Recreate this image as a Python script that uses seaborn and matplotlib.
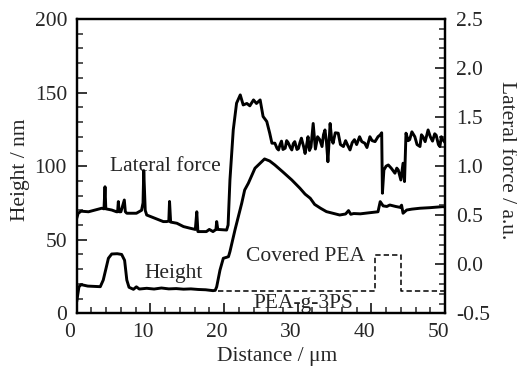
import numpy as np
import pandas as pd
import matplotlib
matplotlib.use("Agg")
import matplotlib.pyplot as plt
import matplotlib.transforms as mtransforms
import seaborn as sns

# height profile (nm) vs distance (um)
height_x = [0, 0.3, 0.6, 1.5, 3.2, 3.6, 4.0, 4.3, 4.75, 5.5, 6.1, 6.5, 6.8, 7.1, 7.7, 8.1,
            8.5, 9.5, 10.5, 11.5, 12.5, 13.5, 14.5, 15.5, 16.5, 17.5, 18.5, 18.8, 19.0,
            19.45, 19.9, 20.3, 20.6, 20.8, 21.5, 22.4, 22.8, 23.3, 24.2, 25.5, 26.2, 26.9,
            28.0, 29.2, 30.3, 31.0, 31.7, 32.3, 33.1, 33.9, 35.7, 36.5, 36.9, 37.2, 37.6,
            38.5, 39.5, 40.9, 41.2, 41.6, 42.1, 42.5, 43.3, 43.9, 44.1, 44.3, 44.8, 45.5,
            46.6, 48.0, 49.7, 50.0]
height_y = [8, 18, 19.5, 18.5, 18.1, 22.6, 31, 37.4, 40.3, 40.5, 40, 36, 22.6, 17.7, 16.3, 18,
            16.5, 17, 16.5, 17.2, 16.6, 16.8, 16.4, 16.6, 16.2, 16, 15.4, 15.6, 18,
            29.4, 37.4, 38, 38.5, 41.9, 57, 74.8, 83.8, 88.4, 98.6, 104.9, 103.5, 100.8,
            96, 90.6, 85, 81, 78.2, 74, 71.4, 69.1, 66.8, 67.5, 69.8, 67.3, 67.8,
            67.6, 68.2, 69, 75.9, 73, 72.6, 73.6, 72.6, 72, 73.5, 68, 70.2, 70.8,
            71.4, 71.8, 72.5, 72.3]

# lateral force (a.u.) vs distance (um)
force_x = [0, 0.2, 0.6, 1.6, 2.5, 3.4, 3.7, 3.84, 3.95, 4.75, 5.4, 5.55, 5.65, 5.75, 6.0,
           6.46, 6.6, 6.8, 8.1, 8.8, 9.0, 9.1, 9.3, 9.5, 10.6, 11.75, 12.2, 12.5, 12.6,
           12.75, 13.6, 14.5, 15.4, 16.1, 16.3, 16.45, 17.6, 18.0, 18.5, 18.9, 19.0, 19.15,
           20.35, 20.55, 20.8, 21.25, 21.7, 22.2, 22.6, 23.1, 23.5, 24.0, 24.4, 24.9, 25.3,
           25.8, 26.2, 26.5, 26.9, 27.2, 27.4, 27.6, 27.8, 28.0, 28.3, 28.5, 28.7, 29.0,
           29.2, 29.4, 29.6, 29.9, 30.1, 30.3, 30.5, 30.8, 31.0, 31.2, 31.4, 31.6, 31.8,
           32.1, 32.4, 32.7, 33.0, 33.3, 33.5, 33.7, 33.9, 34.1, 34.4, 34.6, 34.8, 35.1,
           35.5, 35.8, 36.2, 36.5, 36.8, 37.1, 37.4, 37.7, 38.0, 38.4, 38.7, 39.1, 39.4,
           39.8, 40.1, 40.5, 40.9, 41.2, 41.4, 41.5, 41.7, 42.0, 42.3, 42.7, 43.2, 43.45,
           43.65, 44.0, 44.3, 44.5, 44.7, 45.0, 45.2, 45.5, 45.9, 46.2, 46.6, 46.8, 47.0,
           47.3, 47.7, 48.0, 48.3, 48.6, 48.8, 49.1, 49.3, 49.5, 49.7, 50.0]
force_y = [0.469, 0.52, 0.541, 0.535, 0.553, 0.571, 0.565, 0.79, 0.565, 0.553, 0.535, 0.535,
           0.639, 0.535, 0.535, 0.655, 0.535, 0.52, 0.52, 0.55, 0.625, 0.955, 0.55, 0.502,
           0.469, 0.435, 0.435, 0.44, 0.64, 0.43, 0.418, 0.384, 0.367, 0.355, 0.535, 0.333,
           0.333, 0.355, 0.333, 0.355, 0.435, 0.355, 0.349, 0.4, 0.859, 1.369, 1.642, 1.726,
           1.624, 1.639, 1.615, 1.675, 1.639, 1.675, 1.506, 1.455, 1.336, 1.234, 1.234,
           1.18, 1.165, 1.22, 1.255, 1.17, 1.183, 1.26, 1.24, 1.19, 1.165, 1.23, 1.25, 1.17,
           1.18, 1.24, 1.285, 1.2, 1.129, 1.21, 1.3, 1.16, 1.195, 1.435, 1.174, 1.3, 1.27,
           1.2, 1.32, 1.369, 1.25, 1.045, 1.435, 1.28, 1.234, 1.34, 1.336, 1.22, 1.2, 1.26,
           1.21, 1.165, 1.24, 1.27, 1.22, 1.3, 1.25, 1.234, 1.19, 1.3, 1.26, 1.25, 1.3,
           1.318, 1.34, 0.724, 0.961, 1.0, 1.012, 0.979, 0.928, 0.98, 0.961, 0.859, 1.03,
           0.843, 1.336, 1.26, 1.27, 1.35, 1.3, 1.22, 1.2, 1.32, 1.3, 1.25, 1.369, 1.3,
           1.255, 1.33, 1.315, 1.22, 1.2, 1.3, 1.27, 1.24]

# dashed marker: PEA-g-3PS base and covered PEA region
pea_x = [19.2, 40.5, 40.5, 44.0, 44.0, 50.0]
pea_y = [15, 15, 39.6, 39.6, 15, 15]

sns.set_style("ticks")
plt.rcParams['font.family'] = ['Liberation Serif', 'DejaVu Serif']
plt.rcParams['axes.unicode_minus'] = False

fs = 15.5
fig = plt.figure(figsize=(5.17, 3.68), dpi=100)
ax = fig.add_axes([0.1484, 0.1486, 0.7124, 0.7998])
ax2 = ax.twinx()

df_h = pd.DataFrame({'x': height_x, 'y': height_y})
df_f = pd.DataFrame({'x': force_x, 'y': force_y})
df_p = pd.DataFrame({'x': pea_x, 'y': pea_y})

sns.lineplot(data=df_h, x='x', y='y', ax=ax, color='black', lw=2.1,
             estimator=None, sort=False)
sns.lineplot(data=df_p, x='x', y='y', ax=ax, color='black', lw=1.1,
             estimator=None, sort=False, linestyle=(0, (3.5, 2)))
sns.lineplot(data=df_f, x='x', y='y', ax=ax2, color='black', lw=2.1,
             estimator=None, sort=False)

ax.set_xlim(0, 50)
ax.set_ylim(0, 200)
ax2.set_ylim(-0.5, 2.5)

ax.set_xticks(np.arange(0, 51, 10))
ax.set_xticks(np.arange(0, 51, 2), minor=True)
ax.set_yticks(np.arange(0, 201, 50))
ax.set_yticks(np.arange(0, 201, 10), minor=True)
ax2.set_yticks(np.arange(-0.5, 2.51, 0.5))
ax2.set_yticks(np.arange(-0.5, 2.51, 0.1), minor=True)
ax2.set_yticklabels([f"{v:.1f}" for v in np.arange(-0.5, 2.51, 0.5)])

ax.tick_params(axis='both', which='both', direction='in', labelsize=fs, pad=7)
ax.tick_params(which='major', length=7, width=1.3)
ax.tick_params(which='minor', length=4, width=1.1)
ax.tick_params(axis='y', which='both', right=False)
ax2.tick_params(axis='y', which='both', direction='in', labelsize=fs, pad=8)
ax2.tick_params(which='major', length=7, width=1.3)
ax2.tick_params(which='minor', length=4, width=1.1)

# x tick labels sit a little left of their ticks in the original
shift = mtransforms.ScaledTranslation(-7 / 100, 0, fig.dpi_scale_trans)
for lab in ax.get_xticklabels():
    lab.set_transform(lab.get_transform() + shift)

for a in (ax, ax2):
    for sp in a.spines.values():
        sp.set_visible(True)
        sp.set_linewidth(1.6)
        sp.set_color('black')

ax.set_xlabel('Distance / μm', fontsize=fs)
ax.xaxis.set_label_coords(0.544, -0.148)
ax.xaxis.label.set_va('center')
ax.set_ylabel('Height / nm', fontsize=fs)
ax.yaxis.set_label_coords(-0.154, 0.487)
ax.yaxis.label.set_va('center')
ax2.set_ylabel('Lateral force / a.u.', fontsize=fs, rotation=270)
ax2.yaxis.set_label_coords(1.166, 0.521)
ax2.yaxis.label.set_va('center')
ax2.yaxis.label.set_ha('center')

ax.text(12.1, 99.5, 'Lateral force', fontsize=fs, ha='center', va='center')
ax.text(13.2, 27.2, 'Height', fontsize=fs, ha='center', va='center')
ax.text(31.0, 38.5, 'Covered PEA', fontsize=fs, ha='center', va='center')
ax.text(30.75, 6.8, 'PEA-g-3PS', fontsize=fs, ha='center', va='center')

fig.savefig('out.png', dpi=100, facecolor='white')
